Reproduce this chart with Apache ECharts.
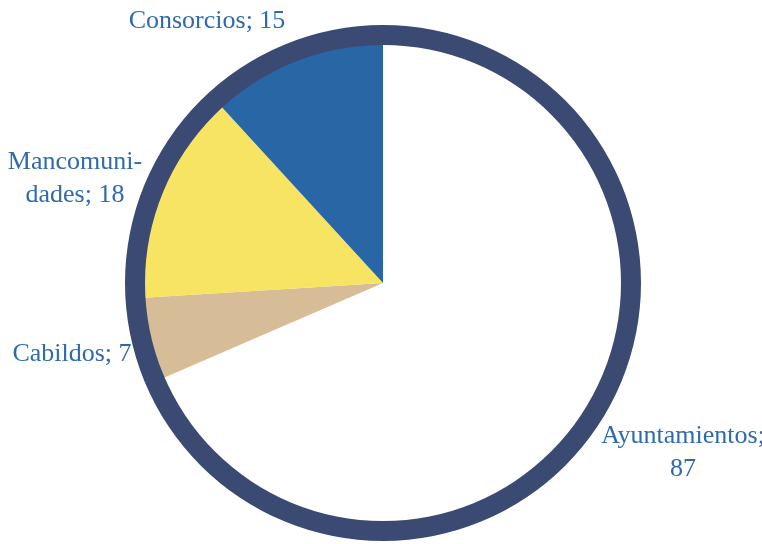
<!DOCTYPE html>
<html>
<head>
<meta charset="utf-8">
<script src="https://cdn.jsdelivr.net/npm/echarts@6/dist/echarts.min.js"></script>
<style>
html,body{margin:0;padding:0;background:#fff;}
#chart{width:762px;height:544px;}
</style>
</head>
<body>
<div id="chart"></div>
<script>
// datos
var categorias = ['Ayuntamientos', 'Cabildos', 'Mancomunidades', 'Consorcios'];
var valores = [87, 7, 18, 15];
var etiquetas = ['Ayuntamientos;\n87', 'Cabildos; 7', 'Mancomuni-\ndades; 18', 'Consorcios; 15'];
var colores = ['#ffffff', '#D6BD97', '#F7E463', '#2866A6'];

// posiciones de las etiquetas
var posEtiquetas = [[683, 453], [72, 354], [75, 179], [207, 21]];

var myChart = echarts.init(document.getElementById('chart'));

var datos = [];
var total = 0;
for (var i = 0; i < categorias.length; i++) {
    datos.push({ name: categorias[i], value: valores[i], itemStyle: { color: colores[i] } });
    total += valores[i];
}

myChart.setOption({
    animation: false,
    series: [{
        type: 'pie',
        center: [383, 283],
        radius: [0, 240],
        startAngle: 90,
        clockwise: true,
        silent: true,
        data: datos,
        label: {
            show: true,
            position: 'outside',
            formatter: function (p) { return etiquetas[p.dataIndex]; },
            fontFamily: '"Liberation Serif", "Times New Roman", serif',
            fontSize: 26,
            lineHeight: 33,
            color: '#2E6BAE',
            align: 'center',
            overflow: 'none'
        },
        labelLine: { show: false },
        labelLayout: function (p) {
            var pos = posEtiquetas[p.dataIndex];
            return { x: pos[0], y: pos[1], align: 'center', verticalAlign: 'middle' };
        }
    }, {
        // anillo exterior
        type: 'pie',
        center: [383, 283],
        radius: [238, 258],
        silent: true,
        data: [{ value: total }],
        itemStyle: { color: '#3B4A72' },
        label: { show: false },
        labelLine: { show: false }
    }]
});
</script>
</body>
</html>
